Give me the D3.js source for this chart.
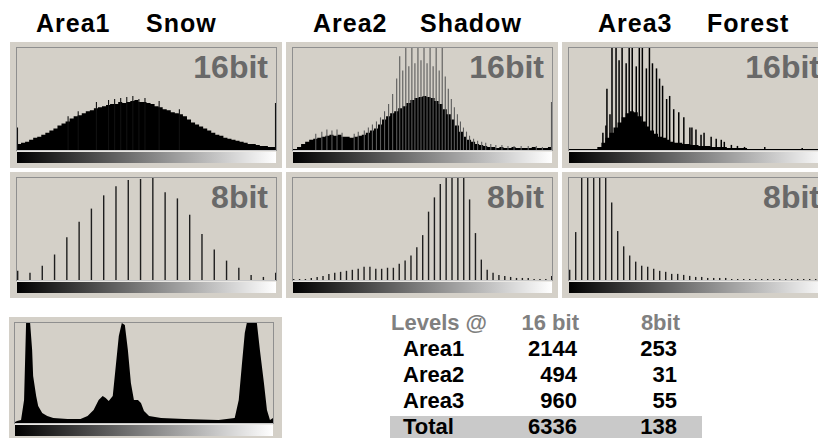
<!DOCTYPE html>
<html>
<head>
<meta charset="utf-8">
<script src="https://cdn.jsdelivr.net/npm/d3@7"></script>
<style>
body { margin: 0; background: #fff; }
svg { display: block; font-family: "Liberation Sans", Arial, sans-serif; font-weight: bold; }
</style>
</head>
<body>
<svg id="chart" width="818" height="438"></svg>
<script>
// ---- data (heights are % of the histogram box) ----
const areaNames = ["Area1", "Area2", "Area3"];
const sceneNames = ["Snow", "Shadow", "Forest"];
const depthNames = ["16bit", "8bit"];

// 16 bit histograms, 64 bins of 4 levels each
const snow16 = [6, 7, 8, 10, 12, 13, 15, 17, 19, 21, 24, 26, 28, 31, 33, 34,
    36, 38, 39, 41, 42, 43, 44, 45, 45, 47, 46, 47, 48, 49, 47, 47,
    46, 45, 43, 42, 40, 39, 37, 36, 35, 33, 30, 27, 25, 23, 21, 19,
    17, 15, 14, 12, 11, 10, 9, 8, 7, 6, 6, 5, 4, 4, 3, 3];
const shadow16 = [1, 3, 6, 8, 10, 11, 12, 13, 14, 15, 14, 15, 13, 13, 12, 13,
    14, 15, 17, 19, 21, 25, 30, 33, 36, 38, 41, 43, 46, 49, 51, 52,
    53, 52, 51, 48, 45, 40, 35, 30, 24, 18, 13, 10, 8, 6, 5, 4,
    3, 3, 2, 3, 2, 2, 3, 2, 2, 2, 2, 3, 2, 2, 2, 3];
const forest16 = [1, 1, 1, 1, 1, 1, 1, 3, 7, 12, 17, 22, 27, 32, 36, 38,
    37, 33, 28, 23, 19, 16, 13, 12, 10, 8, 7, 7, 6, 6, 5, 5,
    4, 4, 4, 3, 3, 3, 3, 2, 2, 2, 2, 2, 1, 1, 1, 1,
    1, 1, 1, 1, 1, 1, 1, 1, 1, 1, 1, 1, 1, 1, 1, 1];

// single-level spikes on top of the 16 bit histograms: [level, height]
const snow16Spikes = [[0, 22], [50, 33], [60, 38], [78, 47], [90, 49], [96, 50], [102, 51],
    [108, 52], [114, 53], [120, 50], [126, 51], [140, 48], [160, 40], [255, 46]];
const shadow16Spikes = [[22, 16], [28, 18], [33, 20], [38, 19], [43, 20], [48, 17], [60, 16], [64, 18],
    [70, 19], [74, 22], [78, 25], [82, 28], [86, 32], [90, 38], [94, 45], [98, 55],
    [102, 70], [105, 92], [108, 78], [111, 100], [114, 82], [117, 100], [120, 85], [123, 100],
    [126, 88], [129, 100], [132, 85], [135, 100], [138, 82], [141, 100], [144, 78], [147, 100],
    [150, 72], [153, 60], [156, 50], [159, 42], [162, 35], [165, 28], [168, 22], [171, 18],
    [174, 14], [178, 11], [182, 9], [186, 8], [190, 7], [195, 6], [200, 5], [206, 5],
    [212, 4], [218, 4], [225, 4], [232, 4], [240, 4], [246, 3], [255, 47]];
const forest16Spikes = [[33, 17], [36, 24], [37, 60], [40, 35], [42, 100], [46, 100], [49, 88],
    [52, 100], [56, 85], [59, 100], [62, 100], [66, 82], [69, 100], [72, 100], [76, 80],
    [79, 100], [82, 85], [86, 80], [89, 70], [92, 63], [96, 50], [99, 53], [103, 40],
    [108, 37], [113, 32], [119, 22], [121, 22], [125, 20], [130, 15], [133, 17], [140, 13],
    [145, 11], [150, 10], [153, 8], [160, 5], [166, 4], [173, 3], [193, 3], [230, 2]];

// 8 bit histograms, one value per occupied level, evenly spread over 0..255
const snow8 = [9, 7, 14, 25, 42, 57, 70, 83, 92, 98, 99, 100, 86, 80, 64, 45, 30, 19, 12, 5, 3, 7];
const shadow8 = [1, 1, 1, 2, 3, 4, 6, 7, 8, 9, 10, 11, 13, 13, 11, 11, 12, 12, 16, 19, 24, 32,
    44, 67, 81, 94, 100, 100, 100, 100, 79, 46, 20, 10, 7, 5, 4, 3, 2, 2, 2, 1, 1, 1, 4];
const forest8 = [10, 47, 100, 100, 100, 100, 100, 76, 48, 33, 24, 18, 14, 13, 11, 9, 8, 6, 6, 5, 4, 3,
    3, 2, 2, 2, 2, 1, 1, 1, 1, 1, 1, 1, 1, 1, 1, 1, 1, 1, 1, 1, 1, 1];

// combined histogram (bottom left)
const totalLevels = [0, 2, 6, 9, 11, 15, 17, 18, 21, 23, 27, 32, 38, 52, 65, 72, 78, 83, 87, 90,
    93, 97, 100, 103, 106, 109, 112, 115, 118, 122, 125, 128, 133, 145, 168, 202, 218, 222,
    225, 228, 230, 240, 243, 247, 250, 253, 256];
const totalCounts = [1, 2, 3, 23, 100, 100, 73, 47, 27, 17, 10, 7, 5, 4, 4, 7, 13, 23, 27, 25,
    22, 27, 57, 87, 100, 98, 73, 40, 23, 23, 20, 12, 7, 5, 4, 3, 5, 23,
    57, 90, 100, 100, 73, 40, 13, 3, 5];

// table
const tableHead = ["Levels @", "16 bit", "8bit"];
const tableRows = ["Area1", "Area2", "Area3", "Total"];
const levels16 = [2144, 494, 960, 6336];
const levels8 = [253, 31, 55, 138];

// ---- drawing ----
const svg = d3.select("#chart");
const panelBg = "#d4d0c8";

const grad = svg.append("defs").append("linearGradient").attr("id", "ramp");
grad.append("stop").attr("offset", "0%").attr("stop-color", "#000");
grad.append("stop").attr("offset", "100%").attr("stop-color", "#fff");

const colX = [10, 286, 562];
const rowY = [42, 172];
let clipId = 0;

function drawBox(ox, oy, ow, oh, ix, iw, top, bottom) {
    const g = svg.append("g");
    g.append("rect").attr("x", ox).attr("y", oy).attr("width", ow).attr("height", oh)
        .attr("fill", panelBg);
    g.append("rect").attr("x", ix - 0.5).attr("y", top - 0.5)
        .attr("width", iw + 1).attr("height", bottom - top + 1)
        .attr("fill", panelBg).attr("stroke", "#8f8f8f");
    g.append("line").attr("x1", ix).attr("x2", ix + iw)
        .attr("y1", bottom + 1).attr("y2", bottom + 1).attr("stroke", "#fff");
    g.append("rect").attr("x", ix).attr("y", bottom + 2).attr("width", iw).attr("height", 11)
        .attr("fill", "url(#ramp)");

    const id = "clip" + (clipId++);
    g.append("clipPath").attr("id", id).append("rect")
        .attr("x", ix).attr("y", top).attr("width", iw).attr("height", bottom - top);
    const plot = g.append("g").attr("clip-path", "url(#" + id + ")");

    const x = d3.scaleLinear().domain([0, 256]).range([ix, ix + iw]);
    const y = d3.scaleLinear().domain([0, 100]).range([bottom, top]).clamp(true);
    return { g, plot, x, y };
}

function drawBinned(p, bins, spikes, spikeColor, spikeWidth) {
    const binW = 256 / bins.length;
    const pts = bins.map((v, i) => [i * binW, v]).concat([[256, bins[bins.length - 1]]]);
    p.plot.append("path").datum(pts)
        .attr("fill", "#000")
        .attr("d", d3.area().curve(d3.curveStepAfter)
            .x(d => p.x(d[0])).y0(p.y(0)).y1(d => p.y(d[1])));
    p.plot.selectAll("line.spike").data(spikes).join("line")
        .attr("class", "spike")
        .attr("x1", d => p.x(Math.min(d[0], 255)) + 0.5).attr("x2", d => p.x(Math.min(d[0], 255)) + 0.5)
        .attr("y1", p.y(0)).attr("y2", d => p.y(d[1]))
        .attr("stroke", spikeColor).attr("stroke-width", spikeWidth);
}

function drawLines(p, vals) {
    const step = 255 / (vals.length - 1);
    p.plot.selectAll("line.bar").data(vals).join("line")
        .attr("class", "bar")
        .attr("x1", (d, i) => p.x(i * step) + 0.7).attr("x2", (d, i) => p.x(i * step) + 0.7)
        .attr("y1", p.y(0)).attr("y2", d => p.y(d))
        .attr("stroke", "#1e1e1e").attr("stroke-width", 1.4);
}

function depthLabel(p, ix, iw, top, text) {
    p.g.append("text").attr("x", ix + iw - 8).attr("y", top + 30)
        .attr("text-anchor", "end").attr("font-size", 32).attr("fill", "#696969")
        .text(text);
}

const data16 = [[snow16, snow16Spikes, "#111", 1.1], [shadow16, shadow16Spikes, "#5a5a5a", 1.1], [forest16, forest16Spikes, "#000", 1.5]];
const data8 = [snow8, shadow8, forest8];

colX.forEach((ox, c) => {
    rowY.forEach((oy, r) => {
        const ix = ox + 7, iw = 259, top = oy + 6, bottom = oy + 108;
        const p = drawBox(ox, oy, 272, 126, ix, iw, top, bottom);
        if (r === 0) drawBinned(p, data16[c][0], data16[c][1], data16[c][2], data16[c][3]);
        else drawLines(p, data8[c]);
        depthLabel(p, ix, iw, top, depthNames[r]);
    });
});

// titles
const titleAreaX = [36, 313, 598];
const titleSceneX = [146, 420, 707];
areaNames.forEach((a, i) => {
    svg.append("text").attr("x", titleAreaX[i]).attr("y", 32).attr("font-size", 25)
        .attr("letter-spacing", 1).text(a);
    svg.append("text").attr("x", titleSceneX[i]).attr("y", 32).attr("font-size", 25)
        .attr("letter-spacing", 1).text(sceneNames[i]);
});

// combined histogram
{
    const p = drawBox(9, 317, 273, 130, 15, 258, 323, 423);
    const pts = totalLevels.map((l, i) => [l, totalCounts[i]]);
    p.plot.append("path").datum(pts).attr("fill", "#000")
        .attr("d", d3.area().x(d => p.x(d[0])).y0(p.y(0)).y1(d => p.y(d[1])));
}

// table
const rowBase = d3.scaleLinear().domain([0, 4]).range([330, 434]);
const c16 = 577, c8 = 677;
svg.append("rect").attr("x", 390).attr("y", 416).attr("width", 312).attr("height", 22).attr("fill", "#c9c9c9");
const tg = svg.append("g").attr("font-size", 22);
tg.append("text").attr("x", 391).attr("y", rowBase(0)).attr("fill", "#808080").text(tableHead[0]);
tg.append("text").attr("x", c16 + 2).attr("y", rowBase(0)).attr("fill", "#808080").attr("text-anchor", "end").text(tableHead[1]);
tg.append("text").attr("x", c8 + 3).attr("y", rowBase(0)).attr("fill", "#808080").attr("text-anchor", "end").text(tableHead[2]);
tableRows.forEach((name, i) => {
    tg.append("text").attr("x", 403).attr("y", rowBase(i + 1)).attr("fill", "#000").text(name);
    tg.append("text").attr("x", c16).attr("y", rowBase(i + 1)).attr("text-anchor", "end").text(levels16[i]);
    tg.append("text").attr("x", c8).attr("y", rowBase(i + 1)).attr("text-anchor", "end").text(levels8[i]);
});
</script>
</body>
</html>
